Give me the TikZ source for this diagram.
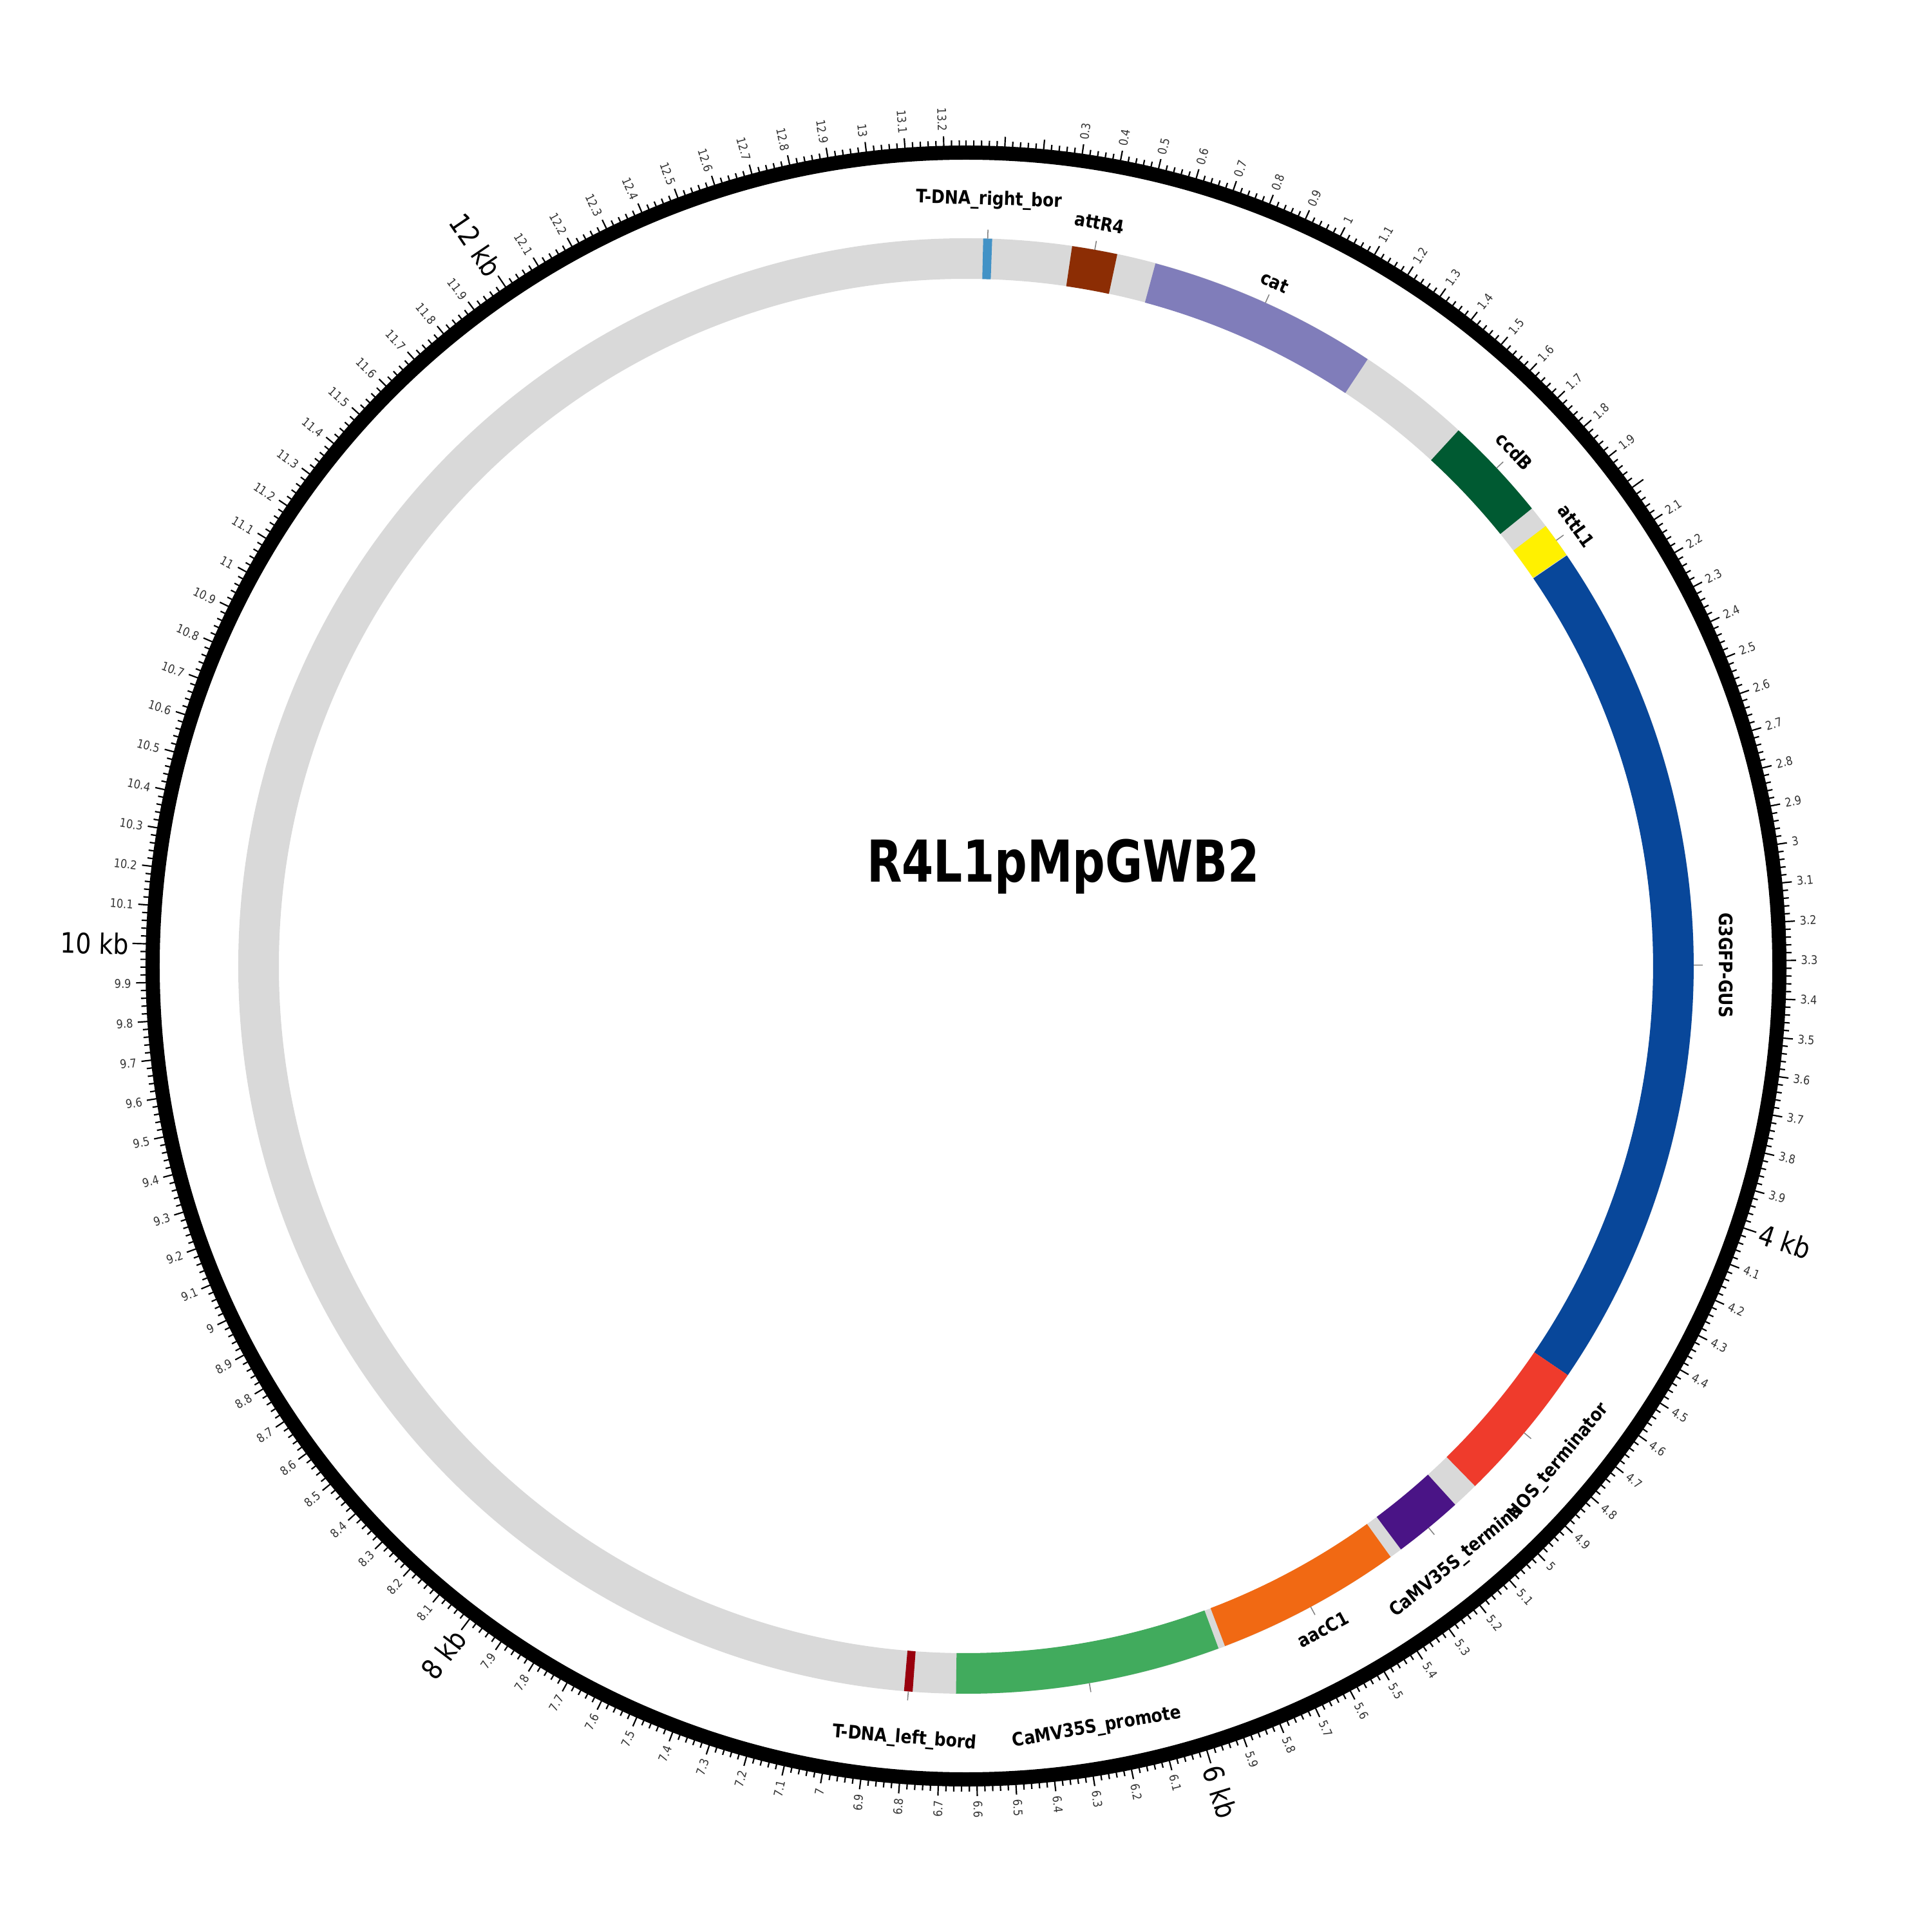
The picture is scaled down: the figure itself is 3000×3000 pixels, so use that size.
\documentclass[tikz,border=0pt]{standalone}
\usepackage{fontspec}
\newfontfamily\mapfont[FakeStretch=0.87]{DejaVu Sans}
\newfontfamily\titlefont[FakeStretch=0.79]{DejaVu Sans}
\usetikzlibrary{calc}
\definecolor{cbackbone}{HTML}{D9D9D9}
\definecolor{crb}{HTML}{4292C6}
\definecolor{cattr}{HTML}{8C2D04}
\definecolor{ccat}{HTML}{807DBA}
\definecolor{cccdb}{HTML}{005A32}
\definecolor{cattl}{HTML}{FFF100}
\definecolor{cgus}{HTML}{08479A}
\definecolor{cnos}{HTML}{EF3B2C}
\definecolor{cterm}{HTML}{4A1486}
\definecolor{caac}{HTML}{F16913}
\definecolor{cprom}{HTML}{41AB5D}
\definecolor{clb}{HTML}{99000D}
\definecolor{cmarker}{HTML}{808080}
\newcommand{\seqlen}{13.26}
\tikzset{
  every picture/.style={x=0.01cm, y=0.01cm},
  ruler/.style={line width=0.22cm},
  minortick/.style={line width=0.62pt},
  ticklabel/.style={font=\mapfont\fontsize{5.3}{6}\selectfont, text=black!80, inner sep=0pt},
  kblabel/.style={font=\mapfont\fontsize{12.4}{14}\selectfont, inner sep=0pt},
  featlabel/.style={font=\mapfont\bfseries\fontsize{8.2}{10}\selectfont, inner sep=0pt},
  featmarker/.style={draw=cmarker, line width=0.43pt},
  maptitle/.style={font=\titlefont\bfseries\fontsize{25.5}{30}\selectfont, inner sep=0pt},
}

\begin{document}
\begin{tikzpicture}
  \newcommand{\feature}[6]{% start kb, end kb, colour, node name, label, label radius
    \pgfmathsetmacro\fa{90-#1*360/\seqlen}
    \pgfmathsetmacro\fb{90-#2*360/\seqlen}
    \pgfmathsetmacro\fc{(#1+#2)/2*360/\seqlen}
    \pgfmathsetmacro\frot{(\fc>90 && \fc<270) ? 180-\fc : -\fc}
    \fill[#3] (\fa:1130) arc[start angle=\fa, end angle=\fb, radius=1130]
      -- (\fb:1067) arc[start angle=\fb, end angle=\fa, radius=1067] -- cycle;
    \draw[featmarker] (90-\fc:1130) -- (90-\fc:1144);
    \node[featlabel, rotate=\frot] (#4) at (90-\fc:#6) {#5};
  }
  \useasboundingbox (-1500,-1500) rectangle (1500,1500);

  % backbone and features
  \draw[cbackbone, line width=0.63cm] (0,0) circle[radius=1098.5];
  \feature{0.050}{0.076}{crb}{rb}{T-DNA\_right\_bor}{1190}
  \feature{0.309}{0.442}{cattr}{attr}{attR4}{1172}
  \feature{0.556}{1.234}{ccat}{cat}{cat}{1165}
  \feature{1.569}{1.880}{cccdb}{ccdb}{ccdB}{1168}
  \feature{1.945}{2.048}{cattl}{attl}{attL1}{1168}
  \feature{2.050}{4.575}{cgus}{gus}{G3GFP-GUS}{1180}
  \feature{4.575}{4.995}{cnos}{nos}{NOS\_terminator}{1200}
  \feature{5.074}{5.278}{cterm}{term}{CaMV35S\_termina}{1198}
  \feature{5.315}{5.862}{caac}{aac}{aacC1}{1170}
  \feature{5.882}{6.659}{cprom}{prom}{CaMV35S\_promote}{1200}
  \feature{6.785}{6.810}{clb}{lb}{T-DNA\_left\_bord}{1203}

  % ruler
  \draw[ruler] (0,0) circle[radius=1263];
  \foreach \i in {0,...,662}{
    \pgfmathsetmacro\tickang{90-\i*0.02*360/\seqlen}
    \pgfmathsetmacro\ticklen{\i==0 ? 9 : (mod(\i,100)==0 ? 22 : (mod(\i,5)==0 ? 16 : 9))}
    \draw[minortick] (\tickang:1273) -- (\tickang:{1273+\ticklen});
  }
  \foreach \t in {3,...,132}{
    \pgfmathtruncatemacro\kbstep{mod(\t,20)}
    \ifnum\kbstep=0\else
      \pgfmathtruncatemacro\whole{\t/10}
      \pgfmathtruncatemacro\tenth{\t-10*\whole}
      \ifnum\tenth=0 \edef\txt{\whole}\else \edef\txt{\whole.\tenth}\fi
      \pgfmathsetmacro\tickang{\t*36/\seqlen}
      \ifdim\tickang pt<180pt
        \node[ticklabel, anchor=west, rotate=90-\tickang] (tl\t) at (90-\tickang:1296) {\txt};
      \else
        \node[ticklabel, anchor=east, rotate=270-\tickang] (tl\t) at (90-\tickang:1296) {\txt};
      \fi
    \fi
  }
  \foreach \k in {4,6,8,10,12}{
    \pgfmathsetmacro\tickang{\k*360/\seqlen}
    \ifdim\tickang pt<180pt
      \node[kblabel, anchor=west, rotate=90-\tickang] (kb\k) at (90-\tickang:1300) {\k\ kb};
    \else
      \node[kblabel, anchor=east, rotate=270-\tickang] (kb\k) at (90-\tickang:1300) {\k\ kb};
    \fi
  }

  \node[maptitle, anchor=base] (title) at (151,130) {R4L1pMpGWB2};
\end{tikzpicture}
\end{document}
